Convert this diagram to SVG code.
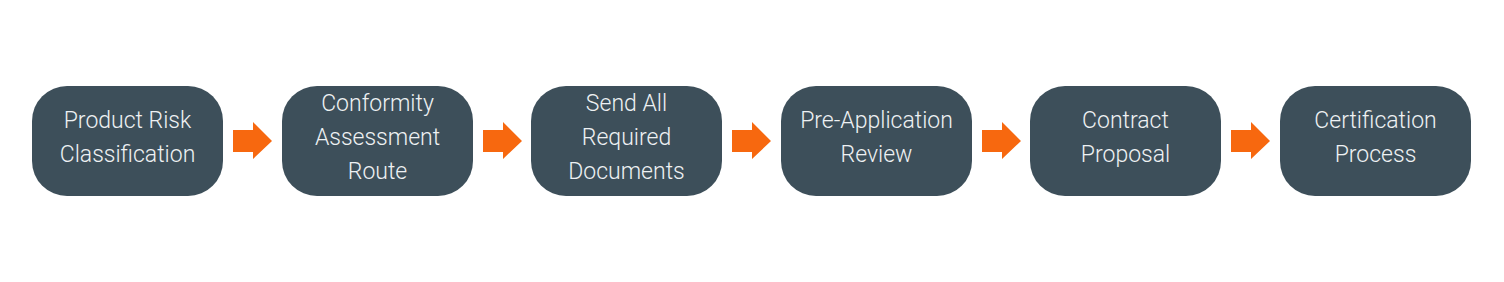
<svg xmlns="http://www.w3.org/2000/svg" width="1504" height="282" viewBox="0 0 1504 282">
<style>
.box{fill:#3d4f5a}
.t{fill:#eef1f3;font-family:Roboto,"Liberation Sans",Arial,sans-serif;font-weight:300;font-size:23px;text-anchor:middle}
.arr{fill:#f7680f}
</style>
<rect width="1504" height="282" fill="#ffffff"/>
<g id="connectors">
<polygon class="arr" points="233,130 253,130 253,122 272,141 253,159 253,152 233,152"/>
<polygon class="arr" points="483,130 503,130 503,122 522,141 503,159 503,152 483,152"/>
<polygon class="arr" points="732,130 752,130 752,122 771,141 752,159 752,152 732,152"/>
<polygon class="arr" points="982,130 1002,130 1002,122 1021,141 1002,159 1002,152 982,152"/>
<polygon class="arr" points="1231,130 1251,130 1251,122 1270,141 1251,159 1251,152 1231,152"/>
</g>
<g id="n1"><rect class="box" x="32" y="86" width="191" height="110" rx="35"/><text class="t" x="127.5" y="128">Product Risk</text><text class="t" x="127.5" y="162">Classification</text></g>
<g id="n2"><rect class="box" x="282" y="86" width="191" height="110" rx="35"/><text class="t" x="377.5" y="111">Conformity</text><text class="t" x="377.5" y="145">Assessment</text><text class="t" x="377.5" y="179">Route</text></g>
<g id="n3"><rect class="box" x="531" y="86" width="191" height="110" rx="35"/><text class="t" x="626.5" y="111">Send All</text><text class="t" x="626.5" y="145">Required</text><text class="t" x="626.5" y="179">Documents</text></g>
<g id="n4"><rect class="box" x="781" y="86" width="191" height="110" rx="35"/><text class="t" x="876.5" y="128">Pre-Application</text><text class="t" x="876.5" y="162">Review</text></g>
<g id="n5"><rect class="box" x="1030" y="86" width="191" height="110" rx="35"/><text class="t" x="1125.5" y="128">Contract</text><text class="t" x="1125.5" y="162">Proposal</text></g>
<g id="n6"><rect class="box" x="1280" y="86" width="191" height="110" rx="35"/><text class="t" x="1375.5" y="128">Certification</text><text class="t" x="1375.5" y="162">Process</text></g>
</svg>
